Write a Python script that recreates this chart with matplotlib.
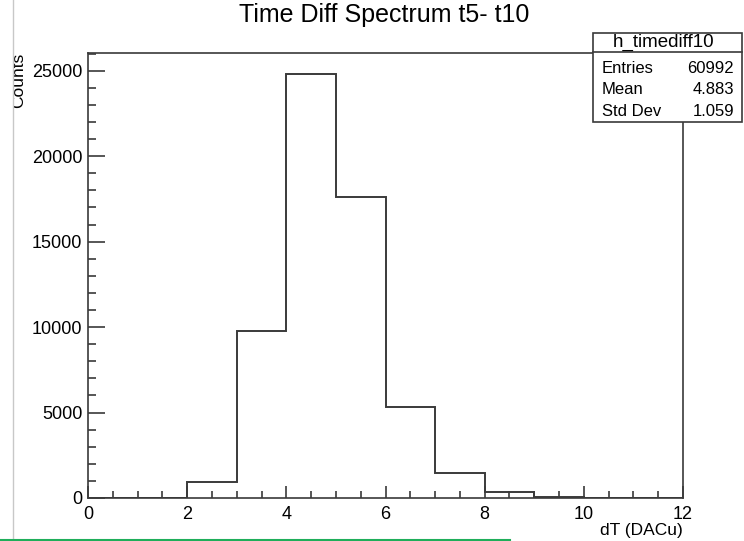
import numpy as np
import matplotlib.pyplot as plt
from matplotlib.lines import Line2D
from matplotlib.patches import Rectangle
from matplotlib.ticker import MultipleLocator

plt.rcParams['font.family'] = ['Liberation Sans', 'DejaVu Sans']

# histogram contents
bin_edges = np.arange(0, 13, 1)
counts = [0, 0, 950, 9800, 24800, 17600, 5350, 1480, 380, 80, 0, 0]

stats_name = 'h_timediff10'
stats_rows = [('Entries', '60992'), ('Mean', '4.883'), ('Std Dev', '1.059')]

W, H = 744, 541
fig = plt.figure(figsize=(W / 100, H / 100), dpi=100)


def fx(px):
    return px / W


def fy(py):
    return 1 - py / H


ax = fig.add_axes([fx(88), fy(498), fx(683) - fx(88), fy(53) - fy(498)])
ax.stairs(counts, bin_edges, color='#3a3a3a', linewidth=1.4)

ax.set_xlim(0, 12)
ax.set_ylim(0, max(counts) * 1.05)
ax.xaxis.set_major_locator(MultipleLocator(2))
ax.xaxis.set_minor_locator(MultipleLocator(0.5))
ax.yaxis.set_major_locator(MultipleLocator(5000))
ax.yaxis.set_minor_locator(MultipleLocator(1000))
ax.tick_params(which='both', direction='in', top=False, right=False,
               labelsize=13, color='#3a3a3a', width=1.2)
ax.tick_params(axis='x', which='major', length=9, pad=5.5)
ax.tick_params(axis='x', which='minor', length=5)
ax.tick_params(axis='y', which='major', length=12, pad=4)
ax.tick_params(axis='y', which='minor', length=6)
for s in ax.spines.values():
    s.set_color('#3a3a3a')
    s.set_linewidth(1.2)

fig.text(fx(384), fy(15), 'Time Diff Spectrum t5- t10', ha='center', va='center', fontsize=18)
fig.text(fx(683), fy(531), 'dT (DACu)', ha='right', va='center', fontsize=12.5)
fig.text(fx(26.5), fy(53), 'Counts', rotation=90, ha='right', va='top', fontsize=12.5)

# screenshot edges
fig.add_artist(Rectangle((0, 0), fx(12.5), 1, transform=fig.transFigure,
                         facecolor='white', edgecolor='none', zorder=5))
fig.add_artist(Line2D([fx(12.5), fx(12.5)], [0, 1], transform=fig.transFigure,
                      color='#c8c8c8', linewidth=1, zorder=6))
fig.add_artist(Line2D([0, fx(510)], [fy(539.5), fy(539.5)], transform=fig.transFigure,
                      color='#1fae5a', linewidth=1.5, zorder=6))

# stats box
bx0, bx1, by0, by1, hdr = 593, 742, 33, 122, 52
fig.add_artist(Rectangle((fx(bx0), fy(by1)), fx(bx1) - fx(bx0), fy(by0) - fy(by1),
                         transform=fig.transFigure, facecolor='white',
                         edgecolor='#3a3a3a', linewidth=1.2, zorder=7))
fig.add_artist(Line2D([fx(bx0), fx(bx1)], [fy(hdr), fy(hdr)], transform=fig.transFigure,
                      color='#3a3a3a', linewidth=1.2, zorder=8))
fig.text(fx(664), fy(42), stats_name, ha='center', va='center', fontsize=13.5, zorder=9)
for i, (k, v) in enumerate(stats_rows):
    y = fy(68.5 + i * 21.5)
    fig.text(fx(602), y, k, ha='left', va='center', fontsize=12, zorder=9)
    fig.text(fx(734), y, v, ha='right', va='center', fontsize=12, zorder=9)

fig.savefig('out.png', dpi=100)
